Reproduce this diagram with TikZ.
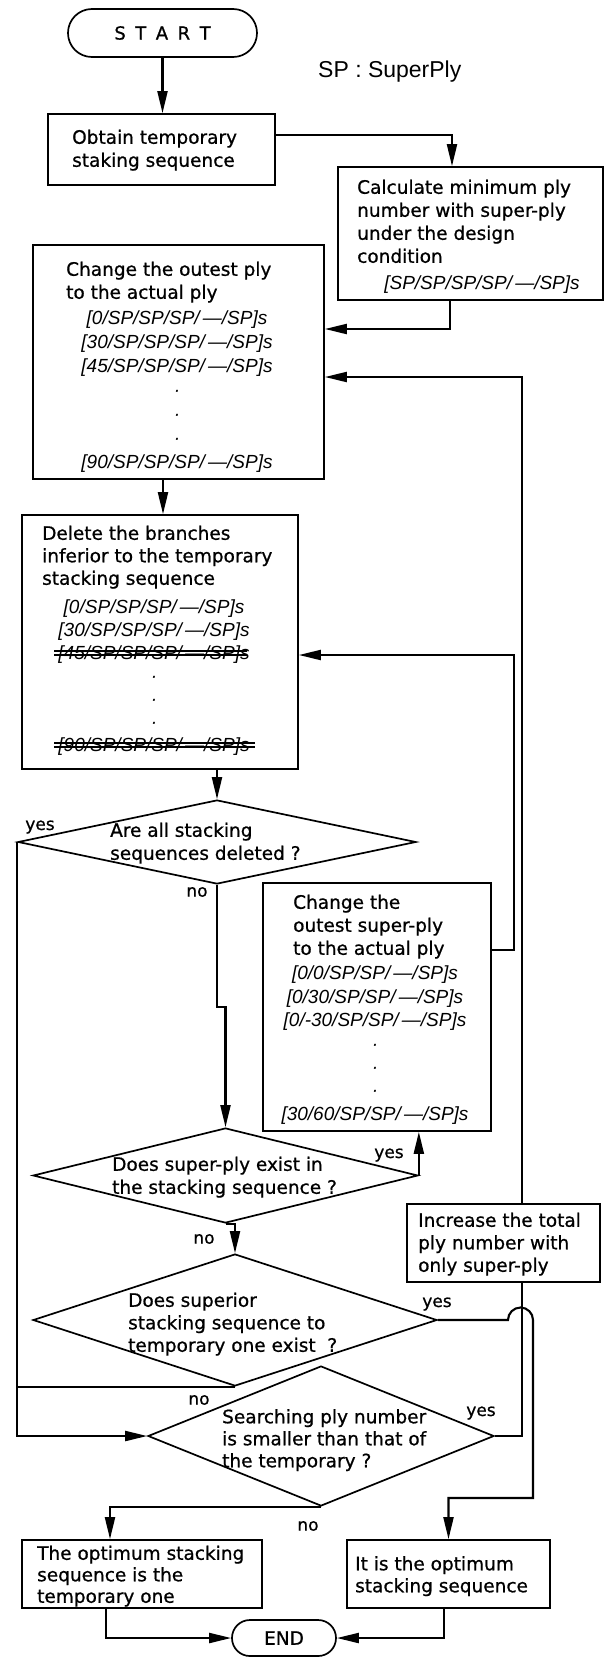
\documentclass[tikz,border=0pt]{standalone}
\usepackage{fontspec}
\setmainfont{DejaVu Sans}[FakeBold=0.8]
\newfontfamily\seqfont{Liberation Sans}
\usetikzlibrary{arrows.meta,shapes.geometric,calc}
\begin{document}
\begin{tikzpicture}[x=1pt,y=-1pt,
  box/.style={draw, line width=1.7pt, inner sep=0pt},
  pill/.style={draw, line width=1.7pt, inner sep=0pt, rounded corners=#1},
  dia/.style={draw, diamond, line width=1.7pt, inner sep=0pt},
  txt/.style={anchor=north west, inner sep=0pt, align=left, font=\fontsize{18.5}{#1}\selectfont},
  txt/.default=23,
  seq/.style={anchor=north, inner sep=0pt, align=center, font=\seqfont\itshape\fontsize{19}{#1}\selectfont},
  seq/.default=23.5,
  lbl/.style={inner sep=0pt, font=\fontsize{17}{20}\selectfont},
  con/.style={line width=2.1pt},
  arr/.style={con, -{Triangle[length=22pt,width=10pt]}},
  strike/.style={line width=1.3pt}
]
\useasboundingbox (0,0) rectangle (605,1658);

% legend
\node[anchor=west, inner sep=0pt, font=\seqfont\fontsize{23}{26}\selectfont] (legend) at (318,72) {SP : SuperPly};

% START
\node[pill=23.9pt, minimum width=189pt, minimum height=48pt, font=\fontsize{18}{20}\selectfont] (start) at (162.5,33) {S\kern9.5pt T\kern9.5pt A\kern9.5pt R\kern9.5pt T};

% Obtain
\node[box, minimum width=227pt, minimum height=71pt] (obtain) at (161.5,149.5) {};
\node[txt] (tobtain) at (72,129.5) {Obtain temporary\\staking sequence};

% Calculate
\node[box, minimum width=265pt, minimum height=133pt] (calc) at (470.5,233.5) {};
\node[txt] (tcalc) at (357,179.5) {Calculate minimum ply\\number with super-ply\\under the design\\condition};
\node[seq] (scalc) at (482,276) {{[}SP/SP/SP/SP/\,—/SP]s};

% Change outest ply
\node[box, minimum width=291pt, minimum height=234pt] (chg) at (178.5,362) {};
\node[txt] (tchg) at (66,261.5) {Change the outest ply\\to the actual ply};
\node[seq=24] (schg) at (177,311) {{[}0/SP/SP/SP/\,—/SP]s\\{[}30/SP/SP/SP/\,—/SP]s\\{[}45/SP/SP/SP/\,—/SP]s\\·\\·\\·\\{[}90/SP/SP/SP/\,—/SP]s};

% Delete
\node[box, minimum width=276pt, minimum height=254pt] (del) at (160,642) {};
\node[txt=22.5] (tdel) at (42,525.5) {Delete the branches\\inferior to the temporary\\stacking sequence};
\node[seq=23] (sdel) at (154,600) {{[}0/SP/SP/SP/\,—/SP]s\\{[}30/SP/SP/SP/\,—/SP]s\\{[}45/SP/SP/SP/\,—/SP]s\\·\\·\\·\\{[}90/SP/SP/SP/\,—/SP]s};
\draw[strike] (54,651) -- (247,651) (54,655) -- (247,655);
\draw[strike] (54,743) -- (255,743) (54,747) -- (255,747);

% Q1
\node[dia, minimum width=398pt, minimum height=84pt] (q1) at (217,842) {};
\node[txt] (tq1) at (110,822.5) {Are all stacking\\sequences deleted ?};

% Change outest super-ply
\node[box, minimum width=228pt, minimum height=248pt] (sup) at (377,1007) {};
\node[txt] (tsup) at (293,894.5) {Change the\\outest super-ply\\to the actual ply};
\node[seq=23.4] (ssup) at (375,966) {{[}0/0/SP/SP/\,—/SP]s\\{[}0/30/SP/SP/\,—/SP]s\\{[}0/-30/SP/SP/\,—/SP]s\\·\\·\\·\\{[}30/60/SP/SP/\,—/SP]s};

% Q2
\node[dia, minimum width=385pt, minimum height=95pt] (q2) at (225.5,1175.5) {};
\node[txt] (tq2) at (112,1156.5) {Does super-ply exist in\\the stacking sequence ?};

% Increase
\node[box, minimum width=193pt, minimum height=78pt] (inc) at (503.5,1243) {};
\node[txt=22.5] (tinc) at (418,1212.5) {Increase the total\\ply number with\\only super-ply};

% Q3
\node[dia, minimum width=404pt, minimum height=132pt] (q3) at (235,1320) {};
\node[txt=22.5] (tq3) at (128,1292.5) {Does superior\\stacking sequence to\\temporary one exist\ \ ?};

% Q4
\node[dia, minimum width=346pt, minimum height=140pt] (q4) at (321,1436) {};
\node[txt=22] (tq4) at (222,1409) {Searching ply number\\is smaller than that of\\the temporary ?};

% results
\node[box, minimum width=240pt, minimum height=68pt] (optemp) at (142,1574) {};
\node[txt=21.5] (toptemp) at (37,1545.5) {The optimum stacking\\sequence is the\\temporary one};
\node[box, minimum width=203pt, minimum height=68pt] (optit) at (448.5,1574) {};
\node[txt=22] (toptit) at (355,1556) {It is the optimum\\stacking sequence};

% END
\node[pill=17.9pt, minimum width=104pt, minimum height=36pt, font=\fontsize{18.5}{20}\selectfont] (end) at (284,1638) {END};

% labels
\node[lbl] (y1) at (40,827) {yes};
\node[lbl] (n1) at (197,892) {no};
\node[lbl] (y2) at (389,1155) {yes};
\node[lbl] (n2) at (204,1239) {no};
\node[lbl] (y3) at (437,1304) {yes};
\node[lbl] (n3) at (199,1400) {no};
\node[lbl] (y4) at (481,1413) {yes};
\node[lbl] (n4) at (308,1526) {no};

% connectors
\draw[arr] (start.south) -- (start.south |- obtain.north);
\draw[arr] ($(obtain.east)+(0,-14.5)$) -| ($(calc.north)+(-18.5,0)$);
\draw[arr] ($(calc.south)+(-20.5,0)$) |- ($(chg.east)+(0,-33)$);
\draw[arr] ($(inc.north)+(18.5,0)$) |- ($(chg.east)+(0,15)$);
\draw[arr] ($(chg.south)+(-15.5,0)$) -- ($(del.north)+(3,0)$);
\draw[arr] ($(sup.east)+(0,-57)$) -- ++(22,0) |- ($(del.east)+(0,13)$);
\draw[arr] (del.south -| q1.north) -- (q1.north);
\draw[arr] (q1.west) |- (q4.west);
\draw[arr] (q1.south) |- ($(q2.north)+(0,-120)$) -- (q2.north);
\draw[arr] (q2.east) -- (q2.east |- sup.south);
\draw[arr] (q2.south) -- (q2.south -| q3.north) -- (q3.north);
\draw[con] (q3.south) -- (q3.south -| q1.west);
\draw[arr] (q3.east) -- (508,1320) arc[start angle=180,end angle=0,radius=12.5pt] -- (533,1498) -| (optit.north);
\draw[con] (q4.east) -| ($(inc.south)+(18.5,0)$);
\draw[arr] (q4.south) -| ($(optemp.north)+(-32,0)$);
\draw[arr] ($(optemp.south)+(-36,0)$) |- (end.west);
\draw[arr] ($(optit.south)+(-4.5,0)$) |- (end.east);
\end{tikzpicture}
\end{document}
